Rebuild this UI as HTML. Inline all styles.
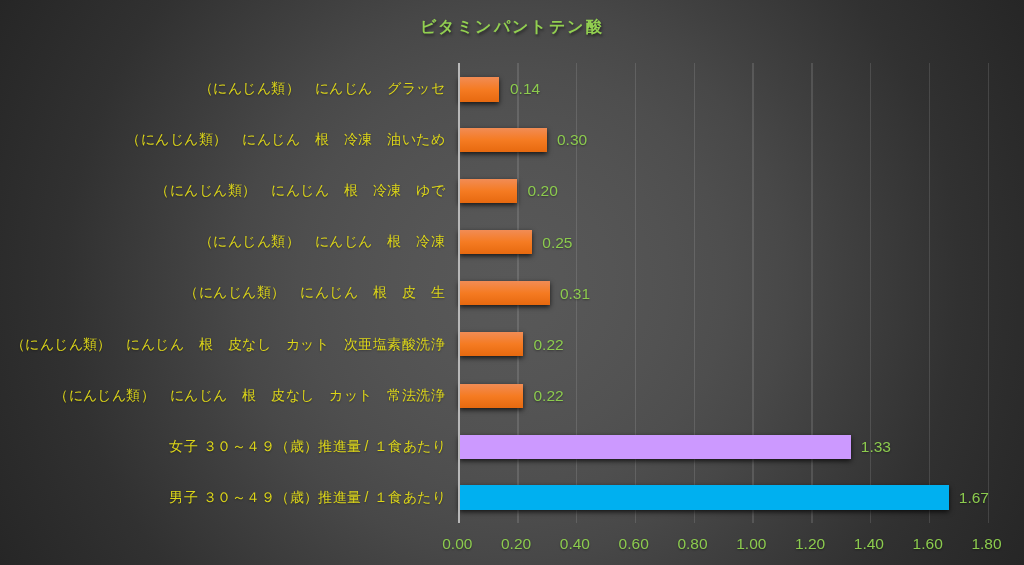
<!DOCTYPE html>
<html lang="ja">
<head>
<meta charset="utf-8">
<title>ビタミンパントテン酸</title>
<style>
html,body{margin:0;padding:0;}
body{width:1024px;height:565px;overflow:hidden;position:relative;
 font-family:"Liberation Sans",sans-serif;background:#262626;}
#bg{position:absolute;left:0;top:0;width:1024px;height:565px;
 background:#262626 radial-gradient(circle 585px at 512px 282.5px, #585858 0px, #575757 50px, #555555 100px, #525252 156px, #4e4e4e 214px, #484848 274px, #404040 332px, #383838 393px, #313131 447px, #2c2c2c 508px, #262626 585px);}
#chart{position:absolute;left:0;top:0;width:1024px;height:565px;will-change:transform;}
.grid{position:absolute;top:63px;height:460px;width:1.6px;background:rgba(242,242,242,0.135);}
.axis{position:absolute;top:63px;height:460px;left:457.8px;width:2px;background:#b9b9b9;}
.bar{position:absolute;left:459px;height:24px;box-shadow:0 2px 5px rgba(0,0,0,0.75);}
.o{background:linear-gradient(to bottom,#f18c55 0%,#f57b22 50%,#e7690f 100%);}
.p{background:#cc99ff;}
.b{background:#00b0f0;}
.cat{position:absolute;right:579px;white-space:nowrap;color:#ddd618;font-size:14px;letter-spacing:0.48px;line-height:20px;height:20px;text-align:right;text-shadow:0 1px 2px rgba(0,0,0,0.35);}
.sl{letter-spacing:0.9px;margin-left:2.5px;}
.val{position:absolute;white-space:nowrap;color:#8ccb4e;text-shadow:0 1px 2px rgba(0,0,0,0.4);font-size:15.5px;line-height:20px;height:20px;}
.tick{position:absolute;top:534.3px;width:60px;margin-left:-31.5px;text-align:center;color:#8ccb4e;text-shadow:0 1px 2px rgba(0,0,0,0.4);font-size:15.5px;line-height:20px;height:20px;}
.title{position:absolute;left:0;width:1024px;top:14px;text-align:center;color:#92d050;font-weight:bold;font-size:16px;letter-spacing:2.4px;line-height:26px;text-shadow:1px 2px 3px rgba(0,0,0,0.5);}
</style>
</head>
<body>
<div id="bg"></div>
<div id="chart">
<div class="title">ビタミンパントテン酸</div>
<div class="grid" style="left:517.1px"></div>
<div class="grid" style="left:575.9px"></div>
<div class="grid" style="left:634.7px"></div>
<div class="grid" style="left:693.5px"></div>
<div class="grid" style="left:752.3px"></div>
<div class="grid" style="left:811.1px"></div>
<div class="grid" style="left:869.9px"></div>
<div class="grid" style="left:928.7px"></div>
<div class="grid" style="left:987.5px"></div>
<div class="bar o" style="top:77.0px;width:40.4px;height:24.8px"></div>
<div class="cat" style="top:78.0px">（にんじん類）　にんじん　グラッセ</div>
<div class="val" style="top:79.2px;left:510.0px">0.14</div>
<div class="bar o" style="top:128.0px;width:87.7px"></div>
<div class="cat" style="top:129.1px">（にんじん類）　にんじん　根　冷凍　油いため</div>
<div class="val" style="top:130.3px;left:557.0px">0.30</div>
<div class="bar o" style="top:178.8px;width:58.3px"></div>
<div class="cat" style="top:180.2px">（にんじん類）　にんじん　根　冷凍　ゆで</div>
<div class="val" style="top:181.4px;left:527.6px">0.20</div>
<div class="bar o" style="top:230.1px;width:73.0px"></div>
<div class="cat" style="top:231.3px">（にんじん類）　にんじん　根　冷凍</div>
<div class="val" style="top:232.6px;left:542.3px">0.25</div>
<div class="bar o" style="top:281.4px;width:90.6px"></div>
<div class="cat" style="top:282.4px">（にんじん類）　にんじん　根　皮　生</div>
<div class="val" style="top:283.7px;left:559.9px">0.31</div>
<div class="bar o" style="top:332.4px;width:64.2px"></div>
<div class="cat" style="top:333.5px">（にんじん類）　にんじん　根　皮なし　カット　次亜塩素酸洗浄</div>
<div class="val" style="top:334.8px;left:533.5px">0.22</div>
<div class="bar o" style="top:383.7px;width:64.2px"></div>
<div class="cat" style="top:384.6px">（にんじん類）　にんじん　根　皮なし　カット　常法洗浄</div>
<div class="val" style="top:385.9px;left:533.5px">0.22</div>
<div class="bar p" style="top:434.7px;width:391.5px"></div>
<div class="cat" style="top:435.7px;right:578px">女子 ３０～４９（歳）推進量<span class="sl">/</span> １食あたり</div>
<div class="val" style="top:437.0px;left:860.8px">1.33</div>
<div class="bar b" style="top:485.2px;width:489.5px;height:24.4px"></div>
<div class="cat" style="top:486.8px;right:578px">男子 ３０～４９（歳）推進量<span class="sl">/</span> １食あたり</div>
<div class="val" style="top:488.2px;left:958.8px">1.67</div>
<div class="axis"></div>
<div class="tick" style="left:458.8px">0.00</div>
<div class="tick" style="left:517.6px">0.20</div>
<div class="tick" style="left:576.4px">0.40</div>
<div class="tick" style="left:635.2px">0.60</div>
<div class="tick" style="left:694.0px">0.80</div>
<div class="tick" style="left:752.8px">1.00</div>
<div class="tick" style="left:811.6px">1.20</div>
<div class="tick" style="left:870.4px">1.40</div>
<div class="tick" style="left:929.2px">1.60</div>
<div class="tick" style="left:988.0px">1.80</div>
</div>
</body>
</html>
